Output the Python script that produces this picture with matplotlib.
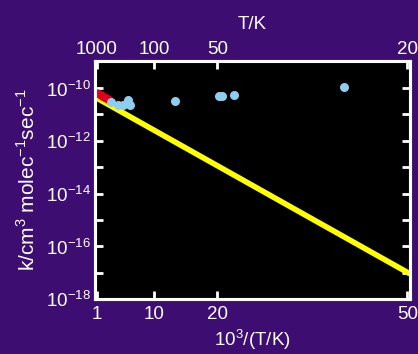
import matplotlib
matplotlib.use("Agg")
import matplotlib.pyplot as plt
from matplotlib import ticker

# Data (x = 10^3/(T/K), k in cm^3 molec^-1 s^-1)
red_x = [1.0, 1.3, 1.6, 1.9, 2.2, 2.5, 2.8, 3.0]
red_k = [6.5e-11, 6.0e-11, 5.5e-11, 5.0e-11, 4.6e-11, 4.2e-11, 3.9e-11, 3.6e-11]
blue_x = [3.3, 4.3, 5.1, 5.85, 6.3, 13.3, 20.3, 20.8, 22.7, 40.0]
blue_k = [3.0e-11, 2.3e-11, 2.3e-11, 3.4e-11, 2.3e-11, 3.2e-11, 5.0e-11, 5.0e-11, 5.3e-11, 1.15e-10]
line_x = [1.0, 50.4]
line_k = [4.2e-11, 9.0e-18]
xticks = [1, 10, 20, 50]
top_ticks = [1, 10, 20, 50]
top_labels = ["1000", "100", "50", "20"]
yticks_major = [1e-18, 1e-16, 1e-14, 1e-12, 1e-10]
ylabels = [r"10$^{-18}$", r"10$^{-16}$", r"10$^{-14}$", r"10$^{-12}$", r"10$^{-10}$"]
yticks_minor = [1e-17, 1e-15, 1e-13, 1e-11]

purple = "#3d0d72"
plt.rcParams['font.family'] = ['Liberation Sans', 'DejaVu Sans']
plt.rcParams['mathtext.fontset'] = 'custom'
plt.rcParams['mathtext.rm'] = 'Liberation Sans'

fig = plt.figure(figsize=(4.18, 3.54), dpi=100, facecolor=purple)
ax = fig.add_axes([95/418, 1-299/354, (410-95)/418, (299-61)/354])
ax.set_facecolor("black")
ax.set_yscale("log")
ax.set_xlim(0.72, 50.4)
ax.set_ylim(1e-18, 1.07e-9)

ax.plot(line_x, line_k, color="#ffff00", lw=4.0, solid_capstyle="butt", zorder=2)
ax.plot(red_x, red_k, "o", color="#e0001b", ms=6, mec="none", zorder=3)
ax.plot(blue_x, blue_k, "o", color="#8fcdf0", ms=6.5, mec="none", zorder=4)

fs = 13.5
ax.set_xticks(xticks)
ax.set_xticklabels([str(v) for v in xticks])
ax.set_yticks(yticks_major)
ax.set_yticklabels(ylabels)
ax.yaxis.set_minor_locator(ticker.FixedLocator(yticks_minor))
ax.yaxis.set_minor_formatter(ticker.NullFormatter())
ax.xaxis.set_minor_locator(ticker.NullLocator())
ax.tick_params(axis="both", which="both", direction="in", colors="white",
               width=2, length=6, labelsize=fs, labelcolor="white",
               right=True, top=False, pad=3)
ax.tick_params(axis="x", pad=5)
for s in ax.spines.values():
    s.set_color("white")
    s.set_linewidth(2.2)

top = ax.twiny()
top.set_xlim(ax.get_xlim())
top.set_xticks(top_ticks)
top.set_xticklabels(top_labels)
top.xaxis.set_minor_locator(ticker.NullLocator())
top.tick_params(axis="x", direction="in", colors="white", width=2, length=6,
                labelsize=fs, labelcolor="white", pad=2)
for s in top.spines.values():
    s.set_color("white")
    s.set_linewidth(2.2)
top.set_xlabel("T/K", color="white", fontsize=fs, labelpad=9)

ax.set_xlabel(r"10$^3$/(T/K)", color="white", fontsize=fs, labelpad=3)
ax.set_ylabel(r"k/cm$^3$ molec$^{-1}$sec$^{-1}$", color="white", fontsize=15, labelpad=5)

fig.savefig("out.png", dpi=100, facecolor=purple)
